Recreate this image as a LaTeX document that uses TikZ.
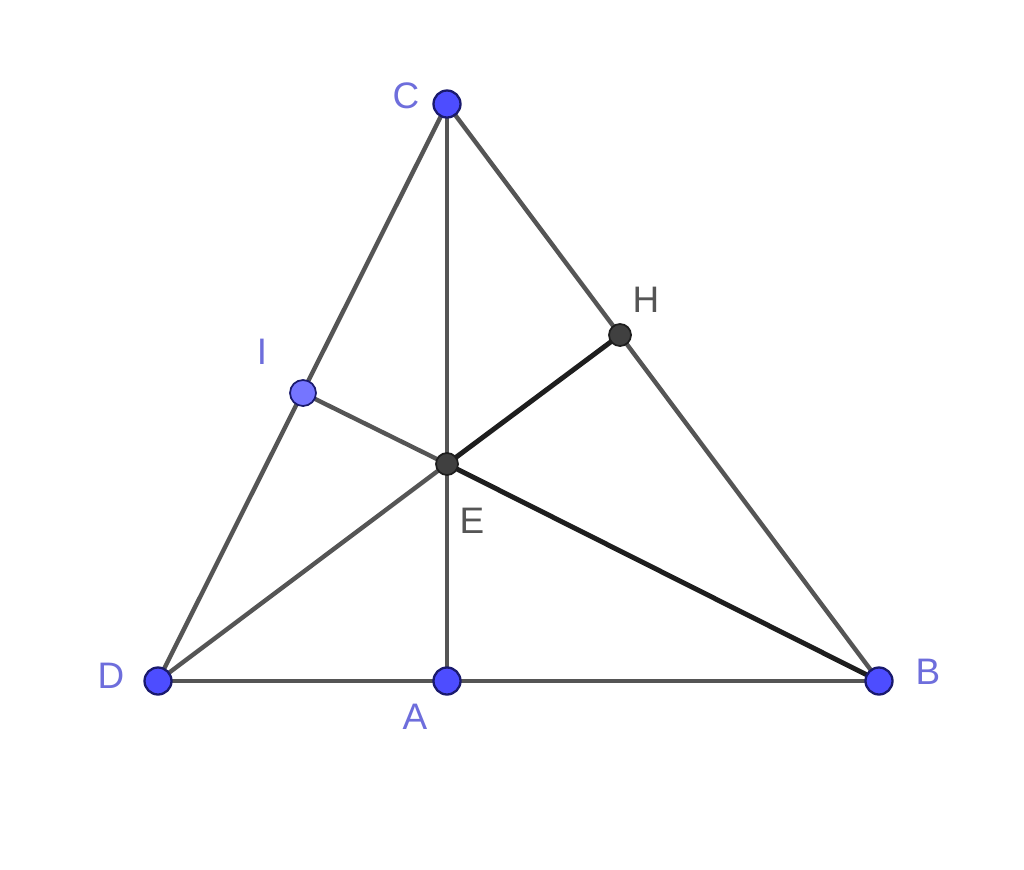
\documentclass[tikz,border=0pt]{standalone}
\usepackage{fontspec}
\setmainfont{Liberation Sans}
\definecolor{ptblue}{HTML}{4D4DFF}
\definecolor{ptlight}{HTML}{7575FF}
\definecolor{ptedge}{HTML}{1A1A6E}
\definecolor{lblblue}{HTML}{6E6EDC}
\definecolor{lblgray}{HTML}{555555}
\definecolor{segray}{HTML}{555555}
\definecolor{segdark}{HTML}{1E1E1E}
\definecolor{ptdark}{HTML}{404040}
\begin{document}
\begin{tikzpicture}[x=0.02cm,y=-0.02cm,
  seg/.style={draw=segray,line width=2.5pt},
  segthick/.style={draw=segdark,line width=2.8pt},
  bluept/.style={circle,draw=ptedge,fill=ptblue,line width=1.3pt,minimum size=0.54cm,inner sep=0pt},
  lightpt/.style={circle,draw=ptedge,fill=ptlight,line width=1pt,minimum size=0.52cm,inner sep=0pt},
  darkpt/.style={circle,draw=segdark,fill=ptdark,line width=1pt,minimum size=0.44cm,inner sep=0pt},
  bluelbl/.style={text=lblblue,font=\fontsize{21}{25}\selectfont,inner sep=0pt},
  graylbl/.style={text=lblgray,font=\fontsize{21}{25}\selectfont,inner sep=0pt}]
\useasboundingbox[fill=white] (0,0) rectangle (1024,869);
\coordinate (C) at (447,104);
\coordinate (D) at (158,681);
\coordinate (A) at (447,681);
\coordinate (B) at (879,681);
\coordinate (H) at (620,335);
\coordinate (I) at (303,393);
\coordinate (E) at (447,464);
% segments
\draw[seg] (D) -- (B);
\draw[seg] (D) -- (C);
\draw[seg] (C) -- (B);
\draw[seg] (C) -- (A);
\draw[seg] (D) -- (E);
\draw[seg] (I) -- (E);
\draw[segthick] (E) -- (H);
\draw[segthick] (E) -- (B);
% points
\node[bluept] (pC) at (C) {};
\node[bluept] (pD) at (D) {};
\node[bluept] (pA) at (A) {};
\node[bluept] (pB) at (B) {};
\node[lightpt] (pI) at (I) {};
\node[darkpt] (pH) at (H) {};
\node[darkpt] (pE) at (E) {};
% labels
\node[bluelbl] (lC) at (406,96) {C};
\node[bluelbl] (lI) at (262,352) {I};
\node[graylbl] (lH) at (646,300) {H};
\node[graylbl] (lE) at (472,521) {E};
\node[bluelbl] (lD) at (111,676) {D};
\node[bluelbl] (lA) at (415,717) {A};
\node[bluelbl] (lB) at (928,672) {B};
\end{tikzpicture}
\end{document}
